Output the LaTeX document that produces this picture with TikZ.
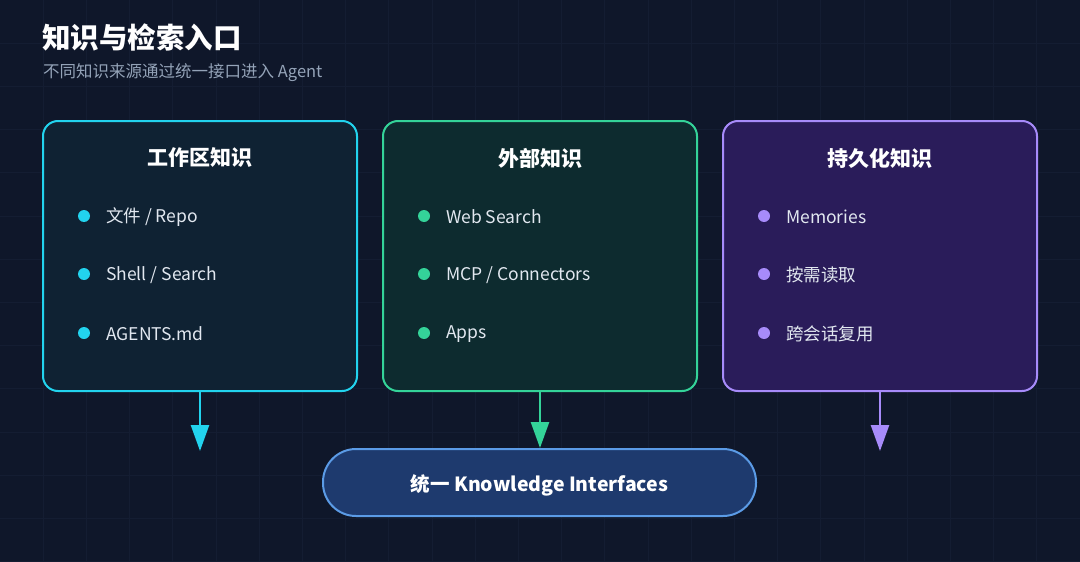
\documentclass[tikz,border=0pt]{standalone}
\usepackage{fontspec}
\setmainfont{Noto Sans CJK SC}
\usetikzlibrary{arrows.meta}
\definecolor{bg}{HTML}{0F172A}
\definecolor{gridc}{HTML}{141D32}
\definecolor{cyanc}{HTML}{22D3EE}
\definecolor{cyanfill}{HTML}{0F2233}
\definecolor{greenc}{HTML}{34D399}
\definecolor{greenfill}{HTML}{0D2B2F}
\definecolor{purplec}{HTML}{A78BFA}
\definecolor{purplefill}{HTML}{2A1C5A}
\definecolor{pillfill}{HTML}{1E3A6E}
\definecolor{pillline}{HTML}{5B9BE6}
\definecolor{itemtext}{HTML}{E2E8F0}
\definecolor{subtext}{HTML}{94A3B8}
\tikzset{
  card/.style={rounded corners=15pt, line width=2pt, minimum width=314pt, minimum height=270pt, inner sep=0pt},
  cardtitle/.style={text=white, font=\fontsize{21}{24}\selectfont\bfseries, inner sep=0pt},
  itemtxt/.style={text=itemtext, font=\fontsize{17.5}{20}\selectfont, anchor=west, inner sep=0pt},
  dot/.style={circle, inner sep=0pt, minimum size=12pt},
  arr/.style={line width=2.5pt, -{Triangle[width=18pt,length=26pt]}},
}
\begin{document}
\begin{tikzpicture}[x=1pt,y=-1pt]
\useasboundingbox (0,0) rectangle (1080,562);
\fill[bg] (0,0) rectangle (1080,562);
\foreach \i in {1,...,24} {\draw[gridc, line width=1pt] (\i*43.2,0) -- (\i*43.2,562);}
\foreach \j in {1,...,13} {\draw[gridc, line width=1pt] (0,\j*43.2) -- (1080,\j*43.2);}

% title
\node[anchor=west, inner sep=0pt, text=white, font=\fontsize{28.5}{32}\selectfont\bfseries] (title) at (42,37) {知识与检索入口};
\node[anchor=west, inner sep=0pt, text=subtext, font=\fontsize{16.5}{19}\selectfont] (subtitle) at (43,73) {不同知识来源通过统一接口进入 Agent};

% cards
\node[card, draw=cyanc, fill=cyanfill] (ws) at (200,256) {};
\node[card, draw=greenc, fill=greenfill] (ext) at (540,256) {};
\node[card, draw=purplec, fill=purplefill] (mem) at (880,256) {};

\node[cardtitle] (wst) at (200,158) {工作区知识};
\node[cardtitle] (extt) at (540,158) {外部知识};
\node[cardtitle] (memt) at (880,158) {持久化知识};

% items card 1
\node[dot, fill=cyanc] (d11) at (84,216) {};
\node[dot, fill=cyanc] (d12) at (84,274) {};
\node[dot, fill=cyanc] (d13) at (84,333) {};
\node[itemtxt] (i11) at (106,217) {文件 / Repo};
\node[itemtxt] (i12) at (106,275) {Shell / Search};
\node[itemtxt] (i13) at (106,334) {AGENTS.md};

% items card 2
\node[dot, fill=greenc] (d21) at (424,216) {};
\node[dot, fill=greenc] (d22) at (424,274) {};
\node[dot, fill=greenc] (d23) at (424,333) {};
\node[itemtxt] (i21) at (446,217) {Web Search};
\node[itemtxt] (i22) at (446,275) {MCP / Connectors};
\node[itemtxt] (i23) at (446,334) {Apps};

% items card 3
\node[dot, fill=purplec] (d31) at (764,216) {};
\node[dot, fill=purplec] (d32) at (764,274) {};
\node[dot, fill=purplec] (d33) at (764,333) {};
\node[itemtxt] (i31) at (786,217) {Memories};
\node[itemtxt] (i32) at (786,275) {按需读取};
\node[itemtxt] (i33) at (786,334) {跨会话复用};

% pill
\node[rounded corners=33pt, line width=2pt, draw=pillline, fill=pillfill, minimum width=433pt, minimum height=67pt, inner sep=0pt] (pill) at (539.5,482.5) {};
\node[inner sep=0pt, text=white, font=\fontsize{19.5}{22}\selectfont\bfseries] (pillt) at (539.5,485) {统一 Knowledge Interfaces};

% arrows
\coordinate (e1) at (200,451);
\coordinate (e3) at (880,451);
\draw[arr, cyanc] (ws.south) -- (e1);
\draw[arr, greenc] (ext.south) -- (pill.north -| ext.south);
\draw[arr, purplec] (mem.south) -- (e3);
\end{tikzpicture}
\end{document}
